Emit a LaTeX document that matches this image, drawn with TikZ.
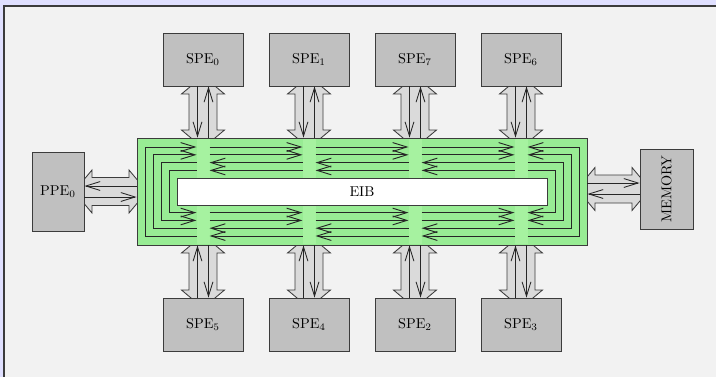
\documentclass[tikz,border=0pt]{standalone}
\usetikzlibrary{arrows.meta,calc}
\definecolor{bgl}{RGB}{224,224,255}
\definecolor{panel}{RGB}{242,242,242}
\definecolor{boxg}{RGB}{192,192,192}
\definecolor{tubeg}{RGB}{218,218,218}
\definecolor{eibg}{RGB}{152,236,148}
\definecolor{stripg}{RGB}{166,242,160}
\definecolor{edge}{RGB}{60,60,60}
\newcommand\vtube[3]{%
  \filldraw[tube] (#1,#2-10) -- (#1-21.5,#2+8) -- (#1-14,#2+8) -- (#1-14,#3-8) -- (#1-21.5,#3-8) -- (#1,#3+10)
    -- (#1+21.5,#3-8) -- (#1+14,#3-8) -- (#1+14,#2+8) -- (#1+21.5,#2+8) -- cycle;}
\newcommand\htube[3]{%
  \filldraw[tube] (#2-10,#1) -- (#2+8,#1-21.5) -- (#2+8,#1-14) -- (#3-8,#1-14) -- (#3-8,#1-21.5) -- (#3+10,#1)
    -- (#3-8,#1+21.5) -- (#3-8,#1+14) -- (#2+8,#1+14) -- (#2+8,#1+21.5) -- cycle;}
\newcommand\ringcw[4]{%
  \draw[ring,->] (196.5,#4) -- (#1,#4) -- (#1,#3) -- (196.5,#3);
  \draw[ring,->] (209.5,#3) -- (302.5,#3);
  \draw[ring,->] (315.5,#3) -- (408.5,#3);
  \draw[ring,->] (421.5,#3) -- (514.5,#3);
  \draw[ring,->] (527.5,#4) -- (#2,#4) -- (#2,#3) -- (527.5,#3);
  \draw[ring,->] (514.5,#4) -- (421.5,#4);
  \draw[ring,->] (408.5,#4) -- (315.5,#4);
  \draw[ring,->] (302.5,#4) -- (209.5,#4);}
\newcommand\ringccw[4]{%
  \draw[ring,->] (196.5,#3) -- (#1,#3) -- (#1,#4) -- (196.5,#4);
  \draw[ring,->] (302.5,#3) -- (209.5,#3);
  \draw[ring,->] (408.5,#3) -- (315.5,#3);
  \draw[ring,->] (514.5,#3) -- (421.5,#3);
  \draw[ring,->] (527.5,#3) -- (#2,#3) -- (#2,#4) -- (527.5,#4);
  \draw[ring,->] (209.5,#4) -- (302.5,#4);
  \draw[ring,->] (315.5,#4) -- (408.5,#4);
  \draw[ring,->] (421.5,#4) -- (514.5,#4);}
\begin{document}
\begin{tikzpicture}[x=0.7pt,y=-0.7pt,
  >={Straight Barb[length=10pt,width=6.2pt]},
  unitbox/.style={draw=edge, fill=boxg, line width=0.6pt, inner sep=0pt},
  spebox/.style={unitbox, minimum width=56pt, minimum height=37.1pt},
  tube/.style={draw=edge, fill=tubeg, line width=0.6pt, line join=miter},
  ring/.style={draw=black!85, line width=0.65pt},
  thinarrow/.style={draw=black!85, line width=0.6pt, ->}]
\useasboundingbox (0,0) rectangle (716,376);
\fill[bgl] (-10,-10) rectangle (730,390);
\fill[panel] (4,6) rectangle (730,390);
\draw[edge, line width=1pt] (4,390) -- (4,6) -- (730,6);
% tubes
\foreach \c in {203,309,415,521} {\vtube{\c}{86}{138} \vtube{\c}{245}{298}}
\htube{191.5}{84}{137}
\htube{189}{587}{640}
% EIB block
\node[draw=edge, fill=eibg, line width=0.6pt, minimum width=315pt, minimum height=74.9pt, inner sep=0pt] (bus) at (362,191.5) {};
\foreach \c in {203,309,415,521} {\fill[stripg] (\c-6.5,138.6) rectangle (\c+6.5,244.4);}
\ringcw{145}{579}{147}{236}
\ringcw{153}{571}{154.8}{228.2}
\ringccw{161}{563}{162.6}{220.4}
\ringccw{169}{555}{170.4}{212.6}
\node[draw=edge, fill=white, line width=0.6pt, minimum width=259pt, minimum height=18.9pt, inner sep=0pt] (eib) at (362,191.5) {EIB};
% units
\node[spebox] (spe0) at (203,59.5) {SPE$_0$};
\node[spebox] (spe1) at (309,59.5) {SPE$_1$};
\node[spebox] (spe7) at (415,59.5) {SPE$_7$};
\node[spebox] (spe6) at (521,59.5) {SPE$_6$};
\node[spebox] (spe5) at (203,324.5) {SPE$_5$};
\node[spebox] (spe4) at (309,324.5) {SPE$_4$};
\node[spebox] (spe2) at (415,324.5) {SPE$_2$};
\node[spebox] (spe3) at (521,324.5) {SPE$_3$};
\node[unitbox, minimum width=36.4pt, minimum height=55.3pt] (ppe) at (58,191.5) {PPE$_0$};
\node[unitbox, minimum width=37.1pt, minimum height=56pt] (mem) at (666.5,189) {\rotatebox{90}{MEMORY}};
% thin arrows
\foreach \n in {spe0,spe1,spe7,spe6} {
  \coordinate (\n a) at ([xshift=-3.85pt]\n.south);
  \coordinate (\n b) at ([xshift=3.85pt]\n.south);
  \draw[thinarrow] (\n a) -- (\n a |- bus.north);
  \draw[thinarrow] (\n b |- bus.north) -- (\n b);
}
\foreach \n in {spe5,spe4,spe2,spe3} {
  \coordinate (\n a) at ([xshift=-3.85pt]\n.north);
  \coordinate (\n b) at ([xshift=3.85pt]\n.north);
  \draw[thinarrow] (\n a) -- (\n a |- bus.south);
  \draw[thinarrow] (\n b |- bus.south) -- (\n b);
}
\coordinate (pa) at ([yshift=3.85pt]ppe.east);
\coordinate (pb) at ([yshift=-3.85pt]ppe.east);
\draw[thinarrow] (bus.west |- pa) -- (pa);
\draw[thinarrow] (pb) -- (bus.west |- pb);
\coordinate (ma) at ([yshift=4.2pt]mem.west);
\coordinate (mb) at ([yshift=-3.5pt]mem.west);
\draw[thinarrow] (bus.east |- ma) -- (ma);
\draw[thinarrow] (mb) -- (bus.east |- mb);
\end{tikzpicture}
\end{document}
